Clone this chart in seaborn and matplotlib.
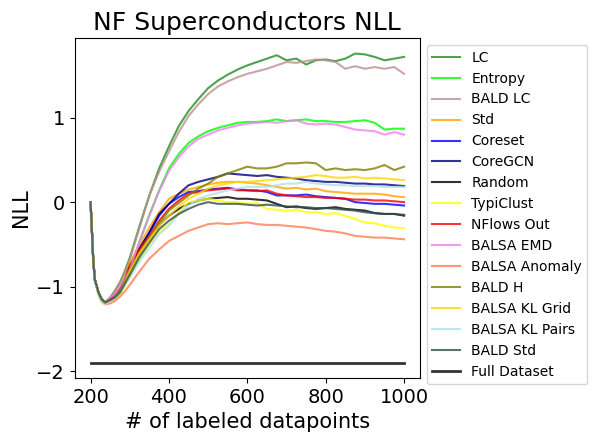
import numpy as np
import pandas as pd
import matplotlib
matplotlib.use("Agg")
import matplotlib.pyplot as plt
import seaborn as sns

x_points = [200, 203, 207, 211, 220, 228, 237, 250, 262, 275, 287, 300, 325, 350, 375, 400,
            425, 450, 475, 500, 525, 550, 575, 600, 625, 650, 675, 700, 725, 750, 775, 800,
            825, 850, 875, 900, 925, 950, 975, 1000]

# shared initial drop (all methods start from the same model)
start = [0.0, -0.3, -0.7, -0.92, -1.07, -1.15, -1.19]
start_low = [0.0, -0.3, -0.7, -0.93, -1.09, -1.18, -1.21]

lc = start + [-1.13, -1.05, -0.95, -0.82, -0.66, -0.28, 0.08, 0.4, 0.66, 0.9, 1.08, 1.22, 1.35,
              1.44, 1.51, 1.57, 1.62, 1.66, 1.7, 1.74, 1.68, 1.7, 1.63, 1.68, 1.69, 1.67, 1.7,
              1.76, 1.75, 1.72, 1.68, 1.7, 1.72]
entropy = start + [-1.14, -1.1, -1.02, -0.92, -0.8, -0.47, -0.15, 0.14, 0.4, 0.57, 0.7, 0.78,
                   0.84, 0.88, 0.91, 0.94, 0.95, 0.95, 0.96, 0.98, 0.96, 0.97, 0.98, 0.96, 0.96,
                   0.95, 0.95, 0.96, 0.97, 0.94, 0.86, 0.87, 0.87]
bald_lc = start + [-1.13, -1.06, -0.96, -0.84, -0.68, -0.3, 0.08, 0.36, 0.6, 0.83, 1.02, 1.16,
                   1.28, 1.37, 1.43, 1.48, 1.52, 1.55, 1.58, 1.62, 1.66, 1.65, 1.67, 1.69, 1.68,
                   1.66, 1.58, 1.61, 1.58, 1.6, 1.58, 1.6, 1.52]
std = start + [-1.15, -1.1, -1.02, -0.9, -0.72, -0.5, -0.3, -0.12, 0.04, 0.1, 0.15, 0.18, 0.21,
               0.23, 0.24, 0.24, 0.23, 0.22, 0.2, 0.18, 0.16, 0.17, 0.15, 0.16, 0.13, 0.12, 0.11,
               0.1, 0.1, 0.1, 0.09, 0.07, 0.06]
coreset = start + [-1.15, -1.11, -1.04, -0.92, -0.77, -0.55, -0.36, -0.16, -0.02, 0.06, 0.12,
                   0.13, 0.15, 0.16, 0.17, 0.15, 0.14, 0.14, 0.12, 0.08, 0.08, 0.08, 0.09, 0.07,
                   0.06, 0.05, 0.04, 0.0, -0.01, -0.02, -0.02, -0.03, -0.04]
coregcn = start + [-1.15, -1.11, -1.04, -0.93, -0.78, -0.55, -0.36, -0.14, -0.02, 0.1, 0.2, 0.24,
                   0.27, 0.3, 0.34, 0.33, 0.32, 0.31, 0.32, 0.3, 0.29, 0.28, 0.26, 0.25, 0.24,
                   0.24, 0.23, 0.22, 0.22, 0.21, 0.21, 0.2, 0.19]
random_ = start + [-1.16, -1.12, -1.06, -0.95, -0.82, -0.6, -0.42, -0.27, -0.16, -0.08, -0.02,
                   0.02, 0.04, 0.05, 0.06, 0.04, 0.04, 0.03, 0.02, -0.02, -0.06, -0.05, -0.07,
                   -0.08, -0.07, -0.06, -0.08, -0.09, -0.1, -0.13, -0.14, -0.14, -0.16]
typiclust = start_low + [-1.18, -1.15, -1.1, -1.0, -0.88, -0.68, -0.5, -0.36, -0.26, -0.12, 0.0,
                         0.02, 0.04, 0.02, 0.0, 0.0, -0.02, -0.01, -0.08, -0.09, -0.1, -0.09,
                         -0.12, -0.12, -0.14, -0.13, -0.16, -0.2, -0.24, -0.25, -0.28, -0.3, -0.31]
nflows_out = start + [-1.15, -1.1, -1.03, -0.91, -0.75, -0.56, -0.4, -0.22, -0.08, 0.02, 0.1,
                      0.12, 0.14, 0.15, 0.16, 0.14, 0.14, 0.13, 0.14, 0.1, 0.08, 0.07, 0.06, 0.06,
                      0.05, 0.05, 0.04, 0.03, 0.03, 0.02, 0.02, 0.01, 0.0]
balsa_emd = start + [-1.13, -1.09, -1.0, -0.9, -0.8, -0.46, -0.16, 0.13, 0.37, 0.53, 0.66, 0.75,
                     0.8, 0.85, 0.88, 0.91, 0.93, 0.94, 0.95, 0.94, 0.96, 0.97, 0.93, 0.92, 0.93,
                     0.92, 0.89, 0.86, 0.85, 0.84, 0.8, 0.83, 0.8]
balsa_anomaly = start_low + [-1.2, -1.17, -1.12, -1.06, -0.98, -0.82, -0.67, -0.56, -0.46, -0.4,
                             -0.34, -0.3, -0.26, -0.25, -0.26, -0.25, -0.24, -0.26, -0.27, -0.27,
                             -0.28, -0.29, -0.3, -0.32, -0.34, -0.35, -0.37, -0.4, -0.41, -0.42,
                             -0.42, -0.43, -0.44]
bald_h = start + [-1.16, -1.12, -1.05, -0.94, -0.8, -0.6, -0.42, -0.25, -0.1, -0.01, 0.08, 0.16,
                  0.22, 0.3, 0.34, 0.38, 0.42, 0.4, 0.4, 0.42, 0.46, 0.46, 0.47, 0.46, 0.38, 0.4,
                  0.38, 0.39, 0.38, 0.4, 0.44, 0.38, 0.42]
balsa_kl_grid = start + [-1.17, -1.13, -1.07, -0.96, -0.82, -0.6, -0.44, -0.28, -0.16, -0.05,
                         0.04, 0.1, 0.16, 0.2, 0.22, 0.24, 0.24, 0.25, 0.26, 0.27, 0.28, 0.29,
                         0.3, 0.32, 0.31, 0.29, 0.29, 0.3, 0.28, 0.29, 0.28, 0.27, 0.26]
balsa_kl_pairs = start_low + [-1.17, -1.14, -1.08, -0.98, -0.9, -0.7, -0.54, -0.38, -0.28, -0.14,
                              -0.04, 0.04, 0.08, 0.11, 0.14, 0.16, 0.18, 0.18, 0.18, 0.2, 0.22,
                              0.22, 0.24, 0.22, 0.21, 0.2, 0.2, 0.19, 0.19, 0.19, 0.18, 0.18, 0.18]
bald_std = start + [-1.16, -1.13, -1.07, -0.97, -0.86, -0.65, -0.48, -0.32, -0.22, -0.14, -0.08,
                    -0.03, 0.0, -0.02, -0.02, -0.02, -0.03, -0.04, -0.03, -0.04, -0.05, -0.06,
                    -0.06, -0.07, -0.07, -0.08, -0.09, -0.1, -0.12, -0.13, -0.14, -0.14, -0.15]

full_x = [200, 1000]
full_dataset = [-1.9, -1.9]

labels = ["LC", "Entropy", "BALD LC", "Std", "Coreset", "CoreGCN", "Random", "TypiClust",
          "NFlows Out", "BALSA EMD", "BALSA Anomaly", "BALD H", "BALSA KL Grid",
          "BALSA KL Pairs", "BALD Std"]
series = [lc, entropy, bald_lc, std, coreset, coregcn, random_, typiclust, nflows_out,
          balsa_emd, balsa_anomaly, bald_h, balsa_kl_grid, balsa_kl_pairs, bald_std]
colors = ["forestgreen", "lime", "rosybrown", "orange", "blue", "navy", "black", "yellow",
          "red", "violet", "coral", "olive", "gold", "powderblue", "darkslategray"]

fig, ax = plt.subplots(figsize=(6.04, 4.33), dpi=100)
fig.subplots_adjust(left=0.124, right=0.695, top=0.912, bottom=0.127)

for lab, vals, col in zip(labels, series, colors):
    df = pd.DataFrame({"x": x_points, "y": vals})
    sns.lineplot(data=df, x="x", y="y", color=col, alpha=0.8, linewidth=1.5, label=lab, ax=ax)

sns.lineplot(x=full_x, y=full_dataset, color="black", alpha=0.8, linewidth=2,
             label="Full Dataset", ax=ax)

ax.set_title("NF Superconductors NLL", fontsize=18)
ax.set_xlabel("# of labeled datapoints", fontsize=15)
ax.set_ylabel("NLL", fontsize=15)
ax.tick_params(labelsize=14)
ax.set_xticks([200, 400, 600, 800, 1000])
ax.set_yticks([-2, -1, 0, 1])
ax.legend(loc="upper left", bbox_to_anchor=(1.0, 1.0), fontsize=10)

plt.savefig("out.png", dpi=100)
